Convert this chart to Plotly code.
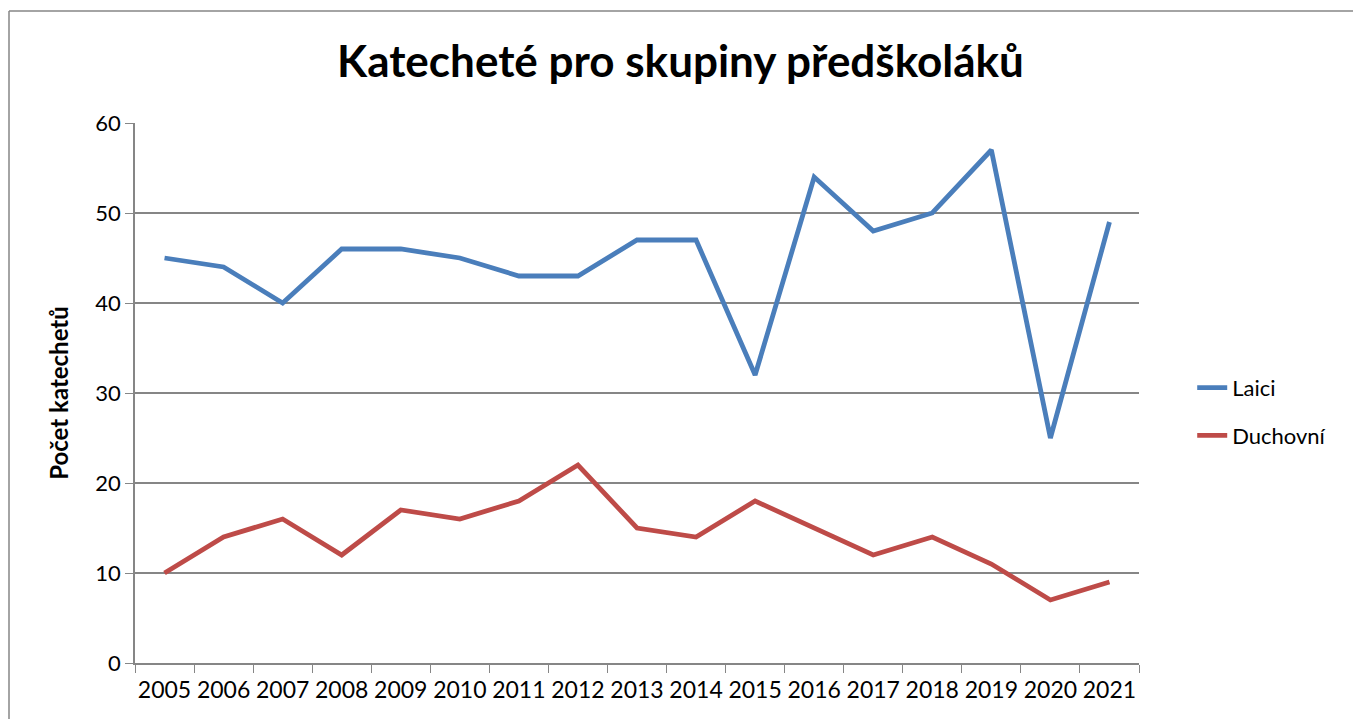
import plotly.graph_objects as go

years = [str(y) for y in range(2005, 2022)]
laici = [45, 44, 40, 46, 46, 45, 43, 43, 47, 47, 32, 54, 48, 50, 57, 25, 49]
duchovni = [10, 14, 16, 12, 17, 16, 18, 22, 15, 14, 18, 15, 12, 14, 11, 7, 9]

font_family = "Lato, 'Open Sans', sans-serif"
axis_grey = "#868686"

fig = go.Figure()
fig.add_trace(go.Scatter(x=years, y=laici, name="Laici", mode="lines",
                         line=dict(color="#4A7EBB", width=4.8), legendgroup="a"))
fig.add_trace(go.Scatter(x=years, y=duchovni, name="Duchovní", mode="lines",
                         line=dict(color="#BE4B48", width=4.8), legendgroup="b"))

# chart frame: only the top and left edges fall inside the picture
frame = dict(color=axis_grey, width=1.5)

# page body has an 8px margin, so the figure is sized to fit inside it
fig.update_layout(
    width=1345, height=711,
    margin=dict(l=127, r=214, t=115, b=56, autoexpand=False),
    paper_bgcolor="white", plot_bgcolor="white",
    font=dict(family=font_family, size=22, color="black"),
    title=dict(text="<b>Katecheté pro skupiny předškoláků</b>", x=0.5, xanchor="center",
               xref="container", yref="container", y=0.924, yanchor="middle",
               font=dict(size=44, family=font_family)),
    legend=dict(x=1.053, y=0.465, xanchor="left", yanchor="middle",
                traceorder="grouped", tracegroupgap=16,
                font=dict(size=22), bgcolor="rgba(0,0,0,0)"),
    shapes=[
        dict(type="line", xref="paper", yref="paper", x0=-0.1255, x1=1.4,
             y0=1.2074, y1=1.2074, line=frame, layer="below"),
        dict(type="line", xref="paper", yref="paper", x0=-0.1255, x1=-0.1255,
             y0=-0.3, y1=1.2074, line=frame, layer="below"),
    ],
)

fig.update_xaxes(type="category", range=[-0.5, 16.5], tickson="boundaries",
                 ticks="outside", ticklen=8, ticklabelstandoff=6, automargin=False,
                 tickangle=0,
                 tickcolor=axis_grey, showline=True, linecolor=axis_grey, linewidth=1.5,
                 showgrid=False, tickfont=dict(size=23))
fig.update_yaxes(range=[0, 60], dtick=10, ticks="outside", ticklen=8, tickcolor=axis_grey,
                 showline=True, linecolor=axis_grey, linewidth=1.5, automargin=False,
                 showgrid=True, gridcolor=axis_grey, gridwidth=1.5, zeroline=False,
                 tickfont=dict(size=22),
                 title=dict(text="<b>Počet katechetů</b>", font=dict(size=24), standoff=20))

fig.write_html("out.html")
